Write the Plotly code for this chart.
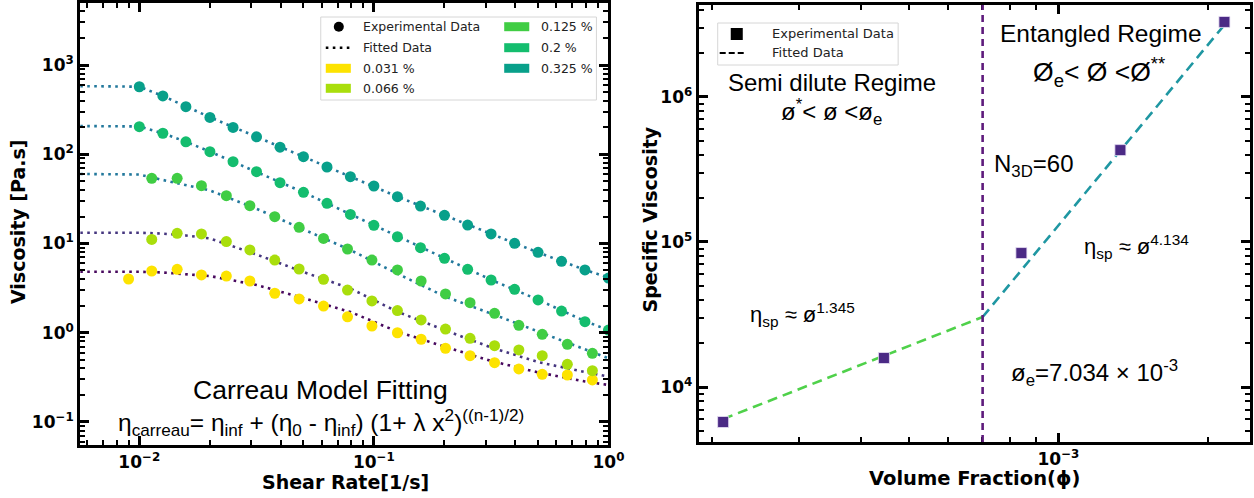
import plotly.graph_objects as go

W, H = 1254, 498
FIG_W = 1273

# ---------------- Left panel: viscosity flow curves ----------------
SHEAR_A = [0.01, 0.0126, 0.0158, 0.02, 0.0251, 0.0316, 0.0398, 0.0501, 0.0631, 0.0794,
           0.1, 0.126, 0.158, 0.2, 0.251, 0.316, 0.398, 0.501, 0.631, 0.794, 1.0]
SHEAR_B = [0.0113, 0.0145, 0.0184, 0.0235, 0.0296, 0.0378, 0.0480, 0.0610, 0.0772, 0.0981,
           0.126, 0.159, 0.202, 0.257, 0.327, 0.415, 0.522, 0.668, 0.854]
SHEAR_C = [0.0090] + SHEAR_B

ETA_0325 = [571, 450, 341, 259, 200, 157, 120, 94, 72, 56, 44.1, 33.5, 26.3, 20.7, 16.1,
            12.8, 10.05, 7.97, 6.32, 5.05, 4.1]
ETA_0200 = [204, 172, 138, 107, 82.5, 63.8, 48.0, 37.5, 28.2, 21.2, 16.0, 11.9, 8.97, 6.83,
            5.14, 3.90, 3.07, 2.33, 1.75, 1.33, 1.07]
ETA_0125 = [53.8, 53.8, 44.4, 34.3, 26.5, 20.0, 15.2, 11.4, 8.68, 6.53, 5.05, 3.80, 2.72,
            2.17, 1.65, 1.21, 0.961, 0.742, 0.588]
ETA_0066 = [11.1, 13.0, 12.8, 10.5, 8.46, 6.53, 5.18, 3.97, 3.01, 2.27, 1.77, 1.39, 1.10,
            0.867, 0.716, 0.641, 0.553, 0.443, 0.376]
ETA_0031 = [4.00, 4.92, 5.14, 4.44, 4.32, 3.80, 2.77, 2.39, 1.99, 1.51, 1.19, 1.00, 0.845,
            0.670, 0.553, 0.462, 0.393, 0.342, 0.336, 0.296]

# Carreau fitted curves, sampled on a common shear-rate grid
FIT_X = [0.0056, 0.008, 0.01, 0.0126, 0.0158, 0.02, 0.0316, 0.05, 0.0794, 0.126, 0.2,
         0.316, 0.5, 0.794, 1.0]
FIT_0325 = [580, 580, 572, 450, 342, 260, 157, 94, 56.2, 33.5, 20.7, 12.8, 7.95, 5.07, 4.15]
FIT_0200 = [207, 207, 205, 172, 138, 107, 64, 37.5, 21.3, 12.0, 6.85, 3.92, 2.35, 1.35, 1.07]
FIT_0125 = [60.1, 60.1, 59.3, 51.5, 45.2, 39.3, 24.5, 14.3, 8.46, 4.59, 2.56, 1.64, 1.03,
            0.653, 0.517]
FIT_0066 = [13.2, 13.2, 13.2, 12.9, 12.3, 11.4, 7.53, 4.80, 3.13, 1.72, 1.07, 0.684, 0.470,
            0.363, 0.322]
FIT_0031 = [4.83, 4.83, 4.83, 4.73, 4.55, 4.32, 3.43, 2.45, 1.71, 1.03, 0.698, 0.483, 0.360,
            0.284, 0.260]

CONC_LABELS = ["0.031 %", "0.066 %", "0.125 %", "0.2 %", "0.325 %"]
MARKER_COLORS = ["#fde300", "#a9de0c", "#40cd44", "#14bd6e", "#08a08a"]
FIT_COLORS = ["#48095e", "#45367f", "#22789c", "#22789c", "#22789c"]

# ---------------- Right panel: specific viscosity scaling ----------------
PHI = [2.11e-4, 4.45e-4, 8.42e-4, 1.333e-3, 2.16e-3]
ETA_SP = [5740, 15850, 83900, 4.3e5, 3.29e6]
PHI_E = 7.034e-4          # entanglement crossover (vertical line)
ETA_E = 30400             # specific viscosity at the crossover
SLOPE_SEMI = 1.345
SLOPE_ENT = 4.134


def px(x):
    return x / W


def py(y):
    return 1 - y / H


fig = go.Figure()

series = [
    (SHEAR_C, ETA_0031, FIT_0031),
    (SHEAR_B, ETA_0066, FIT_0066),
    (SHEAR_B, ETA_0125, FIT_0125),
    (SHEAR_A, ETA_0200, FIT_0200),
    (SHEAR_A, ETA_0325, FIT_0325),
]

for i, (sx, sy, fy) in enumerate(series):
    fig.add_trace(go.Scatter(
        x=FIT_X, y=fy, mode="lines", xaxis="x", yaxis="y",
        line=dict(color=FIT_COLORS[i], width=2.6, dash="2.6px,4.4px"),
        showlegend=False, hoverinfo="skip"))
for i, (sx, sy, fy) in enumerate(series):
    fig.add_trace(go.Scatter(
        x=sx, y=sy, mode="markers", xaxis="x", yaxis="y", name=CONC_LABELS[i],
        marker=dict(color=MARKER_COLORS[i], size=11, line=dict(width=0)),
        showlegend=False))

# power-law fits on either side of the crossover
semi_x = [PHI[0], PHI_E]
semi_y = [ETA_E * (x / PHI_E) ** SLOPE_SEMI for x in semi_x]
ent_x = [PHI_E, PHI[-1]]
ent_y = [ETA_E * (x / PHI_E) ** SLOPE_ENT for x in ent_x]

fig.add_trace(go.Scatter(x=semi_x, y=semi_y, mode="lines", xaxis="x2", yaxis="y2",
                         line=dict(color="#4fd14a", width=2.6, dash="10px,6px"),
                         showlegend=False, hoverinfo="skip"))
fig.add_trace(go.Scatter(x=ent_x, y=ent_y, mode="lines", xaxis="x2", yaxis="y2",
                         line=dict(color="#1f97a2", width=2.6, dash="10px,6px"),
                         showlegend=False, hoverinfo="skip"))
fig.add_trace(go.Scatter(x=PHI, y=ETA_SP, mode="markers", xaxis="x2", yaxis="y2",
                         marker=dict(symbol="square", size=11, color="#4b2a85",
                                     line=dict(width=0.8, color="#e8e0f5")),
                         showlegend=False))

# crossover line
fig.add_shape(type="line", xref="x2", yref="y2 domain", x0=PHI_E, x1=PHI_E, y0=0, y1=1,
              line=dict(color="#5e1b7c", width=2.6, dash="7px,5px"))


def minor_vals(lo, hi):
    vals = []
    for d in range(lo, hi + 1):
        for m in range(2, 10):
            vals.append(m * 10.0 ** d)
    return vals


def sup_label(p):
    s = str(p).replace("-", "\u2212")
    return f"10<sup>{s}</sup>"


tick_font = dict(family="DejaVu Sans", size=17, color="black", weight="bold")
axis_common = dict(type="log", showline=True, linewidth=3, linecolor="black",
                   mirror="allticks", ticks="inside", ticklen=9, tickwidth=2.5,
                   tickcolor="black", showgrid=False, zeroline=False, tickfont=tick_font)

fig.update_layout(
    width=FIG_W, height=H, margin=dict(l=0, r=0, t=0, b=0), autosize=False,
    paper_bgcolor="white", plot_bgcolor="white", showlegend=False,
    xaxis=dict(**axis_common, domain=[px(80), px(607)], anchor="y",
               range=[-2.252, 0.0], tickvals=[0.01, 0.1, 1],
               ticktext=[sup_label(-2), sup_label(-1), sup_label(0)],
               minor=dict(tickvals=minor_vals(-3, 0), ticks="inside", ticklen=5,
                          tickwidth=2, tickcolor="black")),
    yaxis=dict(**axis_common, domain=[py(445), py(3)], anchor="x",
               range=[-1.258, 3.695], tickvals=[0.1, 1, 10, 100, 1000],
               ticktext=[sup_label(p) for p in (-1, 0, 1, 2, 3)],
               minor=dict(tickvals=minor_vals(-2, 3), ticks="inside", ticklen=5,
                          tickwidth=2, tickcolor="black")),
    xaxis2=dict(**axis_common, domain=[px(697), px(1247)], anchor="y2",
                range=[-3.725, -2.614], tickvals=[1e-3], ticktext=[sup_label(-3)],
                minor=dict(tickvals=minor_vals(-4, -3), ticks="inside", ticklen=5,
                           tickwidth=2, tickcolor="black")),
    yaxis2=dict(**axis_common, domain=[py(442), py(5)], anchor="x2",
                range=[3.621, 6.634], tickvals=[1e4, 1e5, 1e6],
                ticktext=[sup_label(p) for p in (4, 5, 6)],
                minor=dict(tickvals=minor_vals(3, 6), ticks="inside", ticklen=5,
                           tickwidth=2, tickcolor="black")),
)

annotations = []


def text(x, y, s, size, family="Liberation Sans", bold=False, angle=0, color="black",
         xanchor="center"):
    annotations.append(dict(
        x=px(x), y=py(y), xref="paper", yref="paper", text=s, showarrow=False,
        xanchor=xanchor, yanchor="middle", textangle=angle,
        font=dict(family=family, size=size, color=color,
                  weight="bold" if bold else "normal")))


# axis titles
text(18, 222, "Viscosity [Pa.s]", 19, family="DejaVu Sans", bold=True, angle=-90)
text(345, 482, "Shear Rate[1/s]", 19, family="DejaVu Sans", bold=True)
text(648, 220, "Specific Viscosity", 19, family="DejaVu Sans", bold=True, angle=-90)
text(972, 478, "Volume Fraction(\u03d5)", 19.5, family="DejaVu Sans", bold=True)

# left panel model text
text(320, 390, "Carreau Model Fitting", 26.5)
text(320, 422, "\u03b7<sub>carreau</sub>= \u03b7<sub>inf</sub> + (\u03b7<sub>0</sub> - "
               "\u03b7<sub>inf</sub>) (1+ \u03bb x<sup>2</sup>)<sup>((n-1)/2)</sup>", 24.5)

# right panel regime text
text(830, 82, "Semi dilute Regime", 24)
text(830, 112, "\u00f8<sup>*</sup>< \u00f8 <\u00f8<sub>e</sub>", 24)
text(1098, 33, "Entangled Regime", 24.5)
text(1096, 72, "\u00d8<sub>e</sub>< \u00d8 <\u00d8<sup>**</sup>", 26.5)
text(1032, 165, "N<sub>3D</sub>=60", 24)
text(1134, 247, "\u03b7<sub>sp</sub> \u2248 \u00f8<sup>4.134</sup>", 22)
text(801, 314, "\u03b7<sub>sp</sub> \u2248 \u00f8<sup>1.345</sup>", 22)
text(1092, 373, "\u00f8<sub>e</sub>=7.034 \u00d7 10<sup>-3</sup>", 24)

shapes = []

# left legend
shapes.append(dict(type="rect", xref="paper", yref="paper", x0=px(320), x1=px(595),
                   y0=py(100), y1=py(17), line=dict(color="#d6d6d6", width=1),
                   fillcolor="rgba(255,255,255,0.85)", layer="above"))
rows = [26.7, 47.7, 68.3, 88.3]
shapes.append(dict(type="circle", xref="paper", yref="paper", x0=px(333), x1=px(343),
                   y0=py(rows[0] + 5), y1=py(rows[0] - 5), fillcolor="black",
                   line=dict(width=0), layer="above"))
shapes.append(dict(type="line", xref="paper", yref="paper", x0=px(325), x1=px(350),
                   y0=py(rows[1]), y1=py(rows[1]),
                   line=dict(color="black", width=2.6, dash="2.6px,4.4px"), layer="above"))
legend_patches = [
    (325, rows[2], MARKER_COLORS[0], CONC_LABELS[0]),
    (325, rows[3], MARKER_COLORS[1], CONC_LABELS[1]),
    (503, rows[0], MARKER_COLORS[2], CONC_LABELS[2]),
    (503, rows[1], MARKER_COLORS[3], CONC_LABELS[3]),
    (503, rows[2], MARKER_COLORS[4], CONC_LABELS[4]),
]
for x0, yc, col, lab in legend_patches:
    shapes.append(dict(type="rect", xref="paper", yref="paper", x0=px(x0), x1=px(x0 + 25),
                       y0=py(yc + 4.5), y1=py(yc - 4.5), fillcolor=col,
                       line=dict(width=0), layer="above"))
    text(x0 + 35, yc, lab, 12.5, family="DejaVu Sans", color="#222222", xanchor="left")
text(360, rows[0], "Experimental Data", 12.5, family="DejaVu Sans", color="#222222",
     xanchor="left")
text(360, rows[1], "Fitted Data", 12.5, family="DejaVu Sans", color="#222222",
     xanchor="left")

# right legend
shapes.append(dict(type="rect", xref="paper", yref="paper", x0=px(716), x1=px(896),
                   y0=py(65), y1=py(23), line=dict(color="#d6d6d6", width=1),
                   fillcolor="rgba(255,255,255,0.85)", layer="above"))
shapes.append(dict(type="rect", xref="paper", yref="paper", x0=px(729), x1=px(741),
                   y0=py(40), y1=py(28), fillcolor="black", line=dict(width=0),
                   layer="above"))
shapes.append(dict(type="line", xref="paper", yref="paper", x0=px(718), x1=px(743),
                   y0=py(53), y1=py(53), line=dict(color="black", width=2, dash="6px,3px"),
                   layer="above"))
text(768, 34, "Experimental Data", 13, family="DejaVu Sans", color="#222222",
     xanchor="left")
text(768, 53, "Fitted Data", 13, family="DejaVu Sans", color="#222222", xanchor="left")

fig.update_layout(annotations=annotations, shapes=fig.layout.shapes + tuple(shapes))

# keep the page free of scrollbars and margins
PAGE_JS = ("document.documentElement.style.overflow='hidden';"
           "document.body.style.overflow='hidden';document.body.style.margin='0';")

fig.write_html("out.html", config={"responsive": False, "displayModeBar": False},
               post_script=PAGE_JS)
